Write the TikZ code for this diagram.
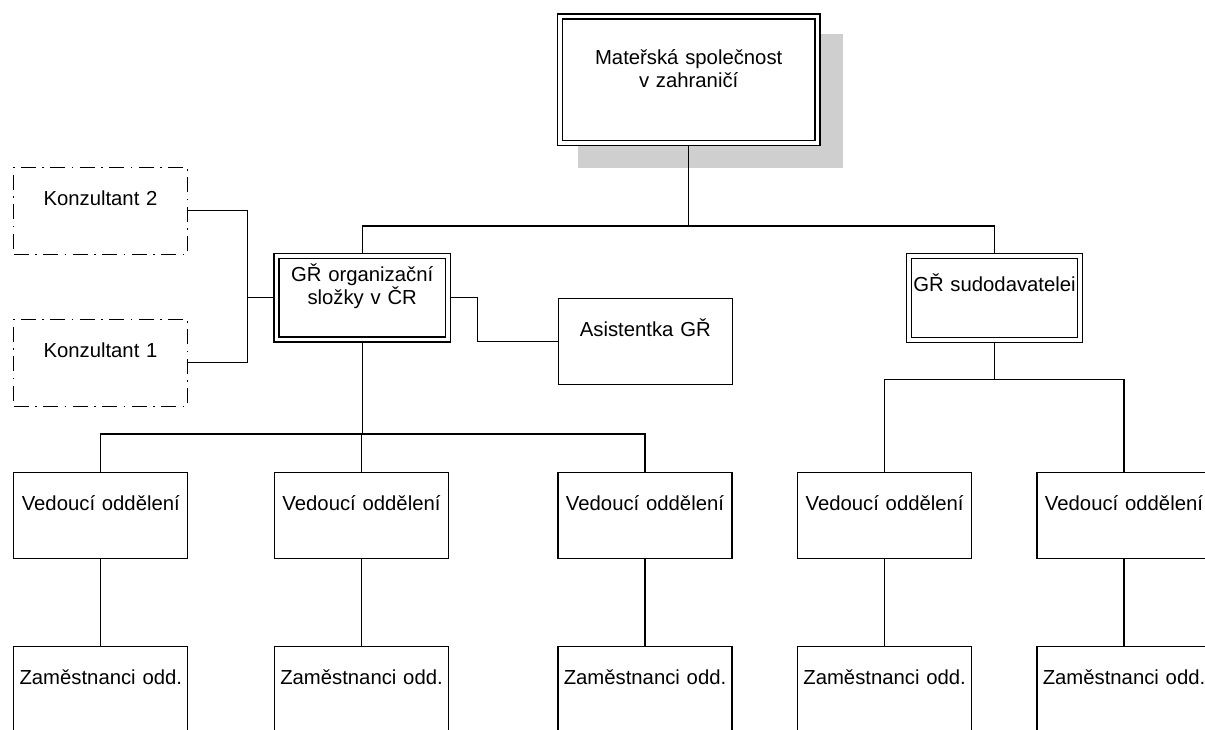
\documentclass[tikz,border=0pt]{standalone}
\usepackage{fontspec}
\setmainfont{Liberation Sans}

\pgfdeclarelayer{shadowlayer}
\pgfdeclarelayer{background}
\pgfsetlayers{shadowlayer,background,main}

\definecolor{shadowgray}{HTML}{CFCFCF}
\newcommand\orglabelfont{\fontsize{20.3}{23}\selectfont}

\tikzset{
  unitbox/.style={draw, line width=1.3pt, fill=white, inner sep=0pt,
    align=center, font=\orglabelfont,
    text width=174pt, text height=38pt, text depth=48pt},
  consultbox/.style={unitbox, text height=38.4pt, text depth=48.6pt,
    dash pattern=on 15pt off 6.5pt on 1.5pt off 6.5pt},
  headbox/.style={draw, line width=1.25pt, double, double distance=3.7pt,
    fill=white, inner sep=0pt, align=center, font=\orglabelfont},
  link/.style={line width=1.3pt}
}

\begin{document}
\begin{tikzpicture}[x=1pt, y=-1pt]
  \useasboundingbox (0,0) rectangle (1205,729);
  \clip (0,0) rectangle (1205,729);

  % parent company and the two managing directors
  \node[headbox, text width=257.7pt, text height=47.5pt, text depth=79.2pt]
    (parent) at (688.7,79.85) {Mateřská společnost\\v zahraničí};
  \node[headbox, text width=171.3pt, text height=25.2pt, text depth=58.5pt]
    (gro) at (362.2,297.7) {GŘ organizační\\složky v ČR};
  \node[headbox, text width=171.3pt, text height=35.8pt, text depth=47.9pt]
    (gsu) at (994.5,298) {GŘ sudodavatelei};

  % staff positions beside the director
  \node[consultbox] (k2) at (100.5,210.8) {Konzultant 2};
  \node[consultbox] (k1) at (100.5,362.8) {Konzultant 1};
  \node[unitbox] (asist) at (645.3,341.7) {Asistentka GŘ};

  % departments
  \foreach \i/\x in {1/100.8, 2/361.5, 3/645, 4/884.6, 5/1124} {
    \node[unitbox] (v\i) at (\x,515.3) {Vedoucí oddělení};
    \node[unitbox] (z\i) at (\x,689.7) {Zaměstnanci odd.};
  }

  % junction levels of the connectors
  \coordinate (busTop) at (0,226);
  \coordinate (busLeft) at (0,434);
  \coordinate (busRight) at (0,379.3);
  \coordinate (jA) at (477.3,0);
  \coordinate (jK) at (247.3,0);

  \begin{pgfonlayer}{shadowlayer}
    \fill[shadowgray] ([shift={(18.9,24.1)}]parent.south west)
      rectangle ([shift={(25.1,17.9)}]parent.north east);
  \end{pgfonlayer}

  \begin{pgfonlayer}{background}
    \draw[link] (parent.south) -- (parent.south |- busTop) -| (gro.north);
    \draw[link] (parent.south |- busTop) -| (gsu.north);

    \draw[link] (gro.east) -- (gro.east -| jA) |- (asist.west);

    \draw[link] (k2.east) -- (k2.east -| jK) -- (k1.east -| jK) -- (k1.east);
    \draw[link] (gro.west) -- (gro.west -| jK);

    \draw[link] (gro.south) -- (gro.south |- busLeft);
    \foreach \v in {v1,v2,v3}
      \draw[link] (gro.south |- busLeft) -| (\v.north);

    \draw[link] (gsu.south) -- (gsu.south |- busRight);
    \foreach \v in {v4,v5}
      \draw[link] (gsu.south |- busRight) -| (\v.north);

    \foreach \i in {1,...,5}
      \draw[link] (v\i.south) -- (z\i.north);
  \end{pgfonlayer}
\end{tikzpicture}
\end{document}
